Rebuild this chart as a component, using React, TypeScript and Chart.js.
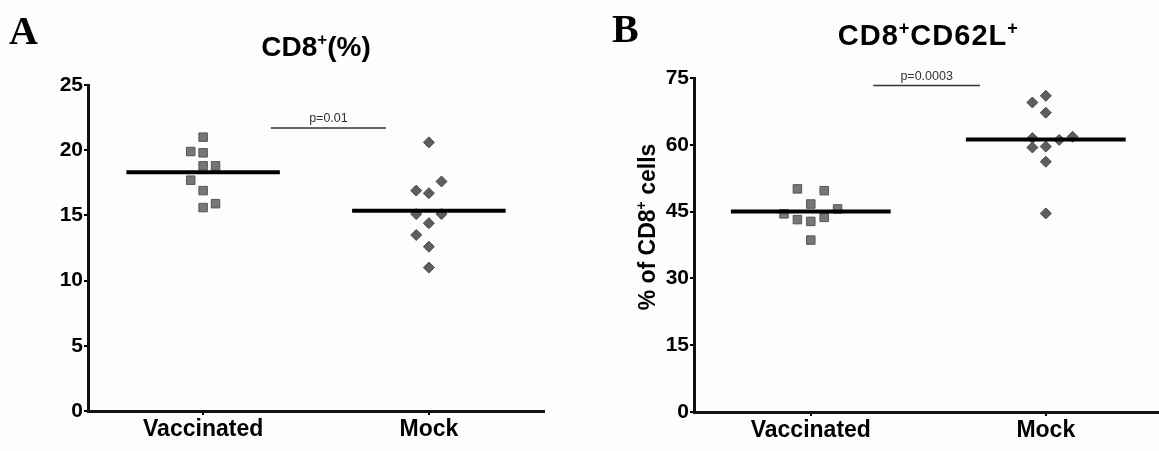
import React, { useEffect, useRef } from 'react';
import { Chart, registerables } from 'chart.js';

Chart.register(...registerables);

// ---------- data ----------
const categories = ['Vaccinated', 'Mock'];

// Panel A: CD8+ (%)
const cd8VaccinatedValues = [21.0, 19.9, 19.8, 18.8, 18.8, 17.7, 16.9, 15.6, 15.9];
const cd8VaccinatedJitter = [0, -0.055, 0, 0, 0.055, -0.055, 0, 0, 0.055];
const cd8MockValues = [20.6, 17.6, 16.9, 16.7, 15.1, 15.1, 14.4, 13.5, 12.6, 11.0];
const cd8MockJitter = [0, 0.056, -0.056, 0, -0.056, 0.056, 0, -0.056, 0, 0];
const cd8Means = [18.3, 15.35];
const cd8YTicks = [0, 5, 10, 15, 20, 25];
const cd8PLabel = 'p=0.01';
const cd8PBarX = [0.3, 0.81];
const cd8PBarY = 21.7;

// Panel B: CD8+CD62L+
const cd62VaccinatedValues = [50.1, 49.7, 46.7, 45.6, 44.5, 43.2, 43.7, 42.8, 38.6];
const cd62VaccinatedJitter = [-0.057, 0.057, 0, 0.114, -0.114, -0.057, 0.057, 0, 0];
const cd62MockValues = [69.5, 71.0, 67.2, 61.5, 61.1, 61.8, 59.4, 59.6, 56.2, 44.6];
const cd62MockJitter = [-0.057, 0, 0, -0.057, 0.057, 0.114, -0.057, 0, 0, 0];
const cd62Means = [45.0, 61.2];
const cd62YTicks = [0, 15, 30, 45, 60, 75];
const cd62PLabel = 'p=0.0003';
const cd62PBarX = [0.266, 0.72];
const cd62PBarY = 73.3;

type Seg = { text: string; sup?: boolean };

const SANS = '"Liberation Sans", Arial, Helvetica, sans-serif';
const SERIF = '"Liberation Serif", "Times New Roman", serif';

function drawRich(
  ctx: CanvasRenderingContext2D,
  segs: Seg[],
  cx: number,
  baseline: number,
  size: number,
  spacing = 0
) {
  const supSize = Math.round(size * 0.62);
  (ctx as any).letterSpacing = `${spacing}px`;
  const widths = segs.map((s) => {
    ctx.font = `bold ${s.sup ? supSize : size}px ${SANS}`;
    return ctx.measureText(s.text).width;
  });
  const total = widths.reduce((a, b) => a + b, 0);
  let x = cx - total / 2;
  ctx.textAlign = 'left';
  ctx.textBaseline = 'alphabetic';
  segs.forEach((s, i) => {
    ctx.font = `bold ${s.sup ? supSize : size}px ${SANS}`;
    ctx.fillText(s.text, x, baseline - (s.sup ? size * 0.38 : 0));
    x += widths[i];
  });
  (ctx as any).letterSpacing = '0px';
}

interface PanelProps {
  left: number;
  width: number;
  height: number;
  letter: string;
  letterX: number;
  letterY: number;
  title: Seg[];
  titleY: number;
  titleSize: number;
  titleSpacing: number;
  yTitle?: Seg[];
  yTitleX?: number;
  yTitleY?: number;
  vaccinated: number[];
  vaccinatedJitter: number[];
  mock: number[];
  mockJitter: number[];
  means: number[];
  yTicks: number[];
  pLabel: string;
  pBarX: number[];
  pBarY: number;
  xMin: number;
  xMax: number;
  yAxisWidth: number;
  xAxisHeight: number;
  padTop: number;
  padRight: number;
}

function Panel(p: PanelProps) {
  const ref = useRef<HTMLCanvasElement>(null);

  useEffect(() => {
    const canvas = ref.current!;
    const textPlugin = {
      id: 'panelText',
      afterDraw(chart: any) {
        const ctx: CanvasRenderingContext2D = chart.ctx;
        ctx.save();
        ctx.fillStyle = '#000';
        // panel letter
        ctx.font = `bold 40px ${SERIF}`;
        ctx.textAlign = 'left';
        ctx.textBaseline = 'alphabetic';
        ctx.fillText(p.letter, p.letterX, p.letterY);
        // title, centred over the column positions
        const xs = chart.scales.x;
        const ys = chart.scales.y;
        const titleX = (xs.getPixelForValue(-0.5) + xs.getPixelForValue(1.5)) / 2;
        drawRich(ctx, p.title, titleX, p.titleY, p.titleSize, p.titleSpacing);
        // y title
        if (p.yTitle) {
          ctx.save();
          ctx.translate(p.yTitleX!, p.yTitleY!);
          ctx.rotate(-Math.PI / 2);
          drawRich(ctx, p.yTitle, 0, 0, 23);
          ctx.restore();
        }
        // p-value label
        const cx = xs.getPixelForValue((p.pBarX[0] + p.pBarX[1]) / 2);
        const cy = ys.getPixelForValue(p.pBarY);
        ctx.fillStyle = '#333';
        ctx.font = `12.5px ${SANS}`;
        ctx.textAlign = 'center';
        ctx.textBaseline = 'alphabetic';
        ctx.fillText(p.pLabel, cx, cy - 6);
        ctx.restore();
      },
    };

    const meanHalf = 0.34;
    const meanSets = p.means.map((m, i) => ({
      type: 'line' as const,
      data: [
        { x: i - meanHalf, y: m },
        { x: i + meanHalf, y: m },
      ],
      borderColor: '#000',
      borderWidth: 4,
      pointRadius: 0,
      fill: false,
    }));

    const chart = new Chart(canvas, {
      type: 'scatter',
      data: {
        datasets: [
          ...meanSets,
          {
            type: 'line' as const,
            data: [
              { x: p.pBarX[0], y: p.pBarY },
              { x: p.pBarX[1], y: p.pBarY },
            ],
            borderColor: '#333',
            borderWidth: 1.5,
            pointRadius: 0,
            fill: false,
          },
          {
            data: p.vaccinated.map((v, i) => ({ x: 0 + p.vaccinatedJitter[i], y: v })),
            pointStyle: 'rect',
            pointRadius: 6,
            backgroundColor: '#777777',
            borderColor: '#555555',
            borderWidth: 1,
          },
          {
            data: p.mock.map((v, i) => ({ x: 1 + p.mockJitter[i], y: v })),
            pointStyle: 'rectRot',
            pointRadius: 5.5,
            backgroundColor: '#5e5e5e',
            borderColor: '#4a4a4a',
            borderWidth: 1,
          },
        ] as any,
      },
      options: {
        animation: false,
        responsive: false,
        devicePixelRatio: 1,
        layout: { padding: { left: 0, top: p.padTop, right: p.padRight, bottom: 0 } },
        plugins: {
          legend: { display: false },
          tooltip: { enabled: false },
          title: { display: false },
        },
        scales: {
          x: {
            type: 'linear',
            min: p.xMin,
            max: p.xMax,
            afterBuildTicks: (s: any) => {
              s.ticks = categories.map((_, i) => ({ value: i }));
            },
            afterFit: (s: any) => {
              s.height = p.xAxisHeight;
            },
            ticks: {
              callback: (v: any) => categories[v as number] ?? '',
              color: '#000',
              font: { family: SANS, size: 23, weight: 'bold' },
              padding: 1,
              maxRotation: 0,
              autoSkip: false,
            },
            grid: {
              drawOnChartArea: false,
              drawTicks: true,
              tickLength: 4,
              color: '#000',
              lineWidth: 2,
            },
            border: { display: true, color: '#111', width: 3 },
          },
          y: {
            type: 'linear',
            min: p.yTicks[0],
            max: p.yTicks[p.yTicks.length - 1],
            afterBuildTicks: (s: any) => {
              s.ticks = p.yTicks.map((v) => ({ value: v }));
            },
            afterFit: (s: any) => {
              s.width = p.yAxisWidth;
            },
            ticks: {
              color: '#000',
              font: { family: SANS, size: 21, weight: 'bold' },
              padding: 1,
            },
            grid: {
              drawOnChartArea: false,
              drawTicks: true,
              tickLength: 4,
              color: '#000',
              lineWidth: 2,
            },
            border: { display: true, color: '#111', width: 3 },
          },
        },
      } as any,
      plugins: [textPlugin],
    });
    return () => chart.destroy();
  }, []);

  return (
    <canvas
      ref={ref}
      width={p.width}
      height={p.height}
      style={{ position: 'absolute', left: p.left, top: 0, width: p.width, height: p.height }}
    />
  );
}

export default function App() {
  return (
    <div
      style={{
        position: 'absolute',
        left: 0,
        top: 0,
        width: 1159,
        height: 451,
        background: '#fdfdfd',
        overflow: 'hidden',
      }}
    >
      <Panel
        left={0}
        width={580}
        height={451}
        letter="A"
        letterX={9}
        letterY={44}
        title={[{ text: 'CD8' }, { text: '+', sup: true }, { text: '(%)' }]}
        titleY={56}
        titleSize={28}
        titleSpacing={0}
        vaccinated={cd8VaccinatedValues}
        vaccinatedJitter={cd8VaccinatedJitter}
        mock={cd8MockValues}
        mockJitter={cd8MockJitter}
        means={cd8Means}
        yTicks={cd8YTicks}
        pLabel={cd8PLabel}
        pBarX={cd8PBarX}
        pBarY={cd8PBarY}
        xMin={-0.51}
        xMax={1.51}
        yAxisWidth={88}
        xAxisHeight={40}
        padTop={85}
        padRight={36}
      />
      <Panel
        left={580}
        width={600}
        height={451}
        letter="B"
        letterX={32}
        letterY={42}
        title={[{ text: 'CD8' }, { text: '+', sup: true }, { text: 'CD62L' }, { text: '+', sup: true }]}
        titleY={45}
        titleSize={29}
        titleSpacing={1}
        yTitle={[{ text: '% of CD8' }, { text: '+', sup: true }, { text: ' cells' }]}
        yTitleX={75}
        yTitleY={227}
        vaccinated={cd62VaccinatedValues}
        vaccinatedJitter={cd62VaccinatedJitter}
        mock={cd62MockValues}
        mockJitter={cd62MockJitter}
        means={cd62Means}
        yTicks={cd62YTicks}
        pLabel={cd62PLabel}
        pBarX={cd62PBarX}
        pBarY={cd62PBarY}
        xMin={-0.497}
        xMax={1.486}
        yAxisWidth={114}
        xAxisHeight={39}
        padTop={78}
        padRight={20}
      />
    </div>
  );
}
